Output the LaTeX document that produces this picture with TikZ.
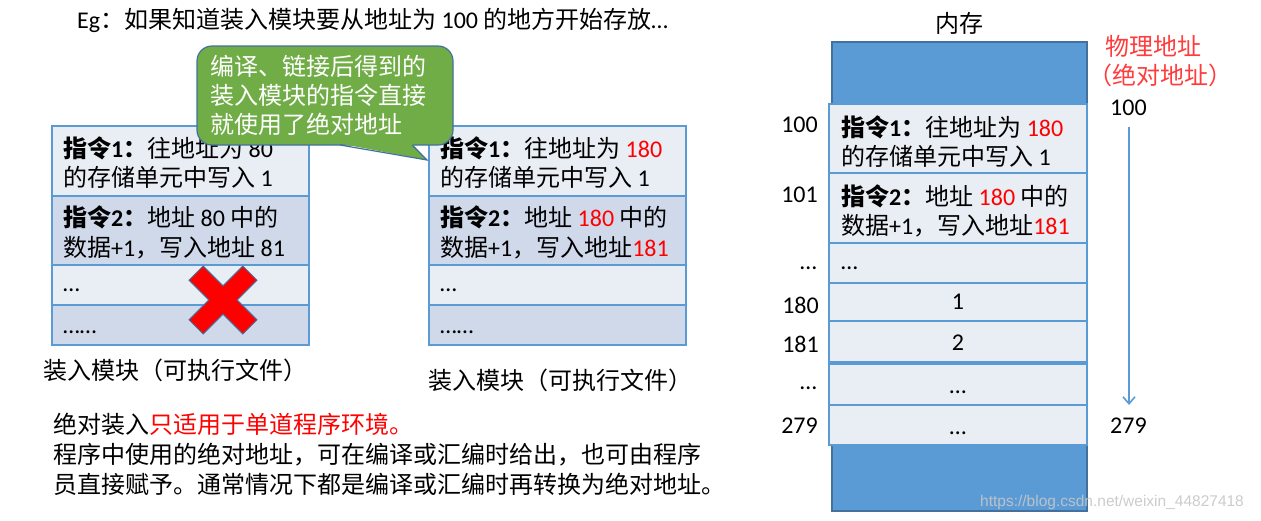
\documentclass[tikz,border=0pt]{standalone}
\usepackage{fontspec}
\setmainfont{Noto Sans CJK SC}
\newfontfamily\lat{Carlito}
\newfontfamily\wmfont{Liberation Sans}
\usetikzlibrary{arrows.meta}
\definecolor{tlight}{HTML}{E9EDF4}
\definecolor{tdark}{HTML}{CFD9EA}
\definecolor{tline}{HTML}{5B9BD5}
\definecolor{memfill}{HTML}{5B9BD5}
\definecolor{memline}{HTML}{41719C}
\definecolor{cgreen}{HTML}{70AD47}
\definecolor{ared}{HTML}{FF0000}
\definecolor{pred}{HTML}{FF3B3B}
\newcommand\dg[1]{{\lat #1}}
\newcommand\rd[1]{\textcolor{ared}{#1}}
\begin{document}
\begin{tikzpicture}[x=1pt,y=-1pt,
  txt/.style={anchor=base west, inner sep=0pt, font=\fontsize{24}{29}\selectfont},
  txtc/.style={txt, anchor=base},
  txte/.style={txt, anchor=base east},
  rowl/.style={fill=tlight, draw=tline, line width=1.2pt},
  rowd/.style={fill=tdark, draw=tline, line width=1.2pt},
  memrow/.style={fill=tlight, draw=tline, line width=1.2pt},
  callout/.style={fill=cgreen, draw=memline, line width=1.2pt, rounded corners=15pt,
    minimum width=256pt, minimum height=99pt, inner sep=0pt, text width=230pt, align=left,
    text=white, font=\fontsize{24}{29}\selectfont},
  ]
\useasboundingbox (0,0) rectangle (1261,520);

% top text
\node[txt] (eg) at (77,28) {\dg{Eg}：如果知道装入模块要从地址为 \dg{100} 的地方开始存放\dg{…}};

% left table
\path[rowl] (52,126) rectangle (309,196);
\path[rowd] (52,196) rectangle (309,265);
\path[rowl] (52,265) rectangle (309,305);
\path[rowd] (52,305) rectangle (309,345);
\node[txt] (l1a) at (63,157) {{\bfseries 指令\dg{1}：}往地址为 \dg{80}};
\node[txt] (l1b) at (63,186) {的存储单元中写入 \dg{1}};
\node[txt] (l2a) at (63,226) {{\bfseries 指令\dg{2}：}地址 \dg{80} 中的};
\node[txt] (l2b) at (63,256) {数据\dg{+1}，写入地址 \dg{81}};
\node[txt] (l3) at (63,291) {\dg{…}};
\node[txt] (l4) at (63,333) {\dg{……}};
\node[txt] (llab) at (43,379) {装入模块（可执行文件）};

% red cross
\path[fill=red, draw=memline, line width=1pt, shift={(223,300)}, rotate=45]
  (10,10) -- (38,10) -- (38,-10) -- (10,-10) -- (10,-38) -- (-10,-38) -- (-10,-10)
  -- (-38,-10) -- (-38,10) -- (-10,10) -- (-10,38) -- (10,38) -- cycle;

% middle table
\path[rowl] (429,126) rectangle (686,196);
\path[rowd] (429,196) rectangle (686,265);
\path[rowl] (429,265) rectangle (686,305);
\path[rowd] (429,305) rectangle (686,345);
\node[txt] (m1a) at (440,157) {{\bfseries 指令\dg{1}：}往地址为 \rd{\dg{180}}};
\node[txt] (m1b) at (440,186) {的存储单元中写入 \dg{1}};
\node[txt] (m2a) at (440,226) {{\bfseries 指令\dg{2}：}地址 \rd{\dg{180}} 中的};
\node[txt] (m2b) at (440,256) {数据\dg{+1}，写入地址\rd{\dg{181}}};
\node[txt] (m3) at (440,291) {\dg{…}};
\node[txt] (m4) at (440,333) {\dg{……}};
\node[txt] (mlab) at (428,389) {装入模块（可执行文件）};

% callout
\node[callout] (call) at (325,95.5) {编译、链接后得到的\\装入模块的指令直接\\就使用了绝对地址};
\fill[cgreen] (340,143.6) -- (412,143.6) -- (427,160) -- cycle;
\draw[memline, line width=1.2pt, line join=miter] (340,145) -- (427,160) -- (412,145);

% memory
\node[txtc] (nc) at (959,32) {内存};
\path[fill=memfill, draw=memline, line width=2.5pt] (832,42) rectangle (1087,511);
\path[memrow] (829,104) rectangle (1087,173);
\path[memrow] (829,173) rectangle (1087,243);
\path[memrow] (829,243) rectangle (1087,283);
\path[memrow] (829,283) rectangle (1087,321);
\path[memrow] (829,321) rectangle (1087,362);
\path[memrow] (829,364) rectangle (1087,405);
\path[memrow] (829,405) rectangle (1087,445);
\node[txt] (r1a) at (841,136) {{\bfseries 指令\dg{1}：}往地址为 \rd{\dg{180}}};
\node[txt] (r1b) at (841,165) {的存储单元中写入 \dg{1}};
\node[txt] (r2a) at (841,205) {{\bfseries 指令\dg{2}：}地址 \rd{\dg{180}} 中的};
\node[txt] (r2b) at (841,234) {数据\dg{+1}，写入地址\rd{\dg{181}}};
\node[txt] (r3) at (841,269) {\dg{…}};
\node[txtc] (r4) at (958,309) {\dg{1}};
\node[txtc] (r5) at (958,350) {\dg{2}};
\node[txtc] (r6) at (958,393) {\dg{…}};
\node[txtc] (r7) at (958,434) {\dg{…}};

% left addresses
\node[txte] (a100) at (818,132) {\dg{100}};
\node[txte] (a101) at (818,202) {\dg{101}};
\node[txte] (adots1) at (817,269) {\dg{…}};
\node[txte] (a180) at (819,313) {\dg{180}};
\node[txte] (a181) at (819,352) {\dg{181}};
\node[txte] (adots2) at (817,389) {\dg{…}};
\node[txte] (a279) at (818,433) {\dg{279}};

% right side
\node[txt, text=pred] (phys) at (1105,55) {物理地址};
\node[txt, text=pred] (abs) at (1088,84) {（绝对地址）};
\node[txt] (p100) at (1110,115) {\dg{100}};
\node[txt] (p279) at (1110,433) {\dg{279}};
\coordinate (arrtop) at (1129,127);
\coordinate (arrbot) at (1129,405);
\draw[tline, line width=1.6pt, -{Straight Barb[length=7pt,width=12pt,line width=1.6pt]}] (arrtop) -- (arrbot);

% bottom text
\node[txt] (b1) at (53,433) {绝对装入\rd{只适用于单道程序环境。}};
\node[txt] (b2) at (53,463) {程序中使用的绝对地址，可在编译或汇编时给出，也可由程序};
\node[txt] (b3) at (53,493) {员直接赋予。通常情况下都是编译或汇编时再转换为绝对地址。};

% watermark
\node[anchor=base west, inner sep=0pt, font=\wmfont\fontsize{15.5}{18}\selectfont, text=gray!45, opacity=0.9] (wm) at (980,506) {https://blog.csdn.net/weixin\_44827418};
\end{tikzpicture}
\end{document}
